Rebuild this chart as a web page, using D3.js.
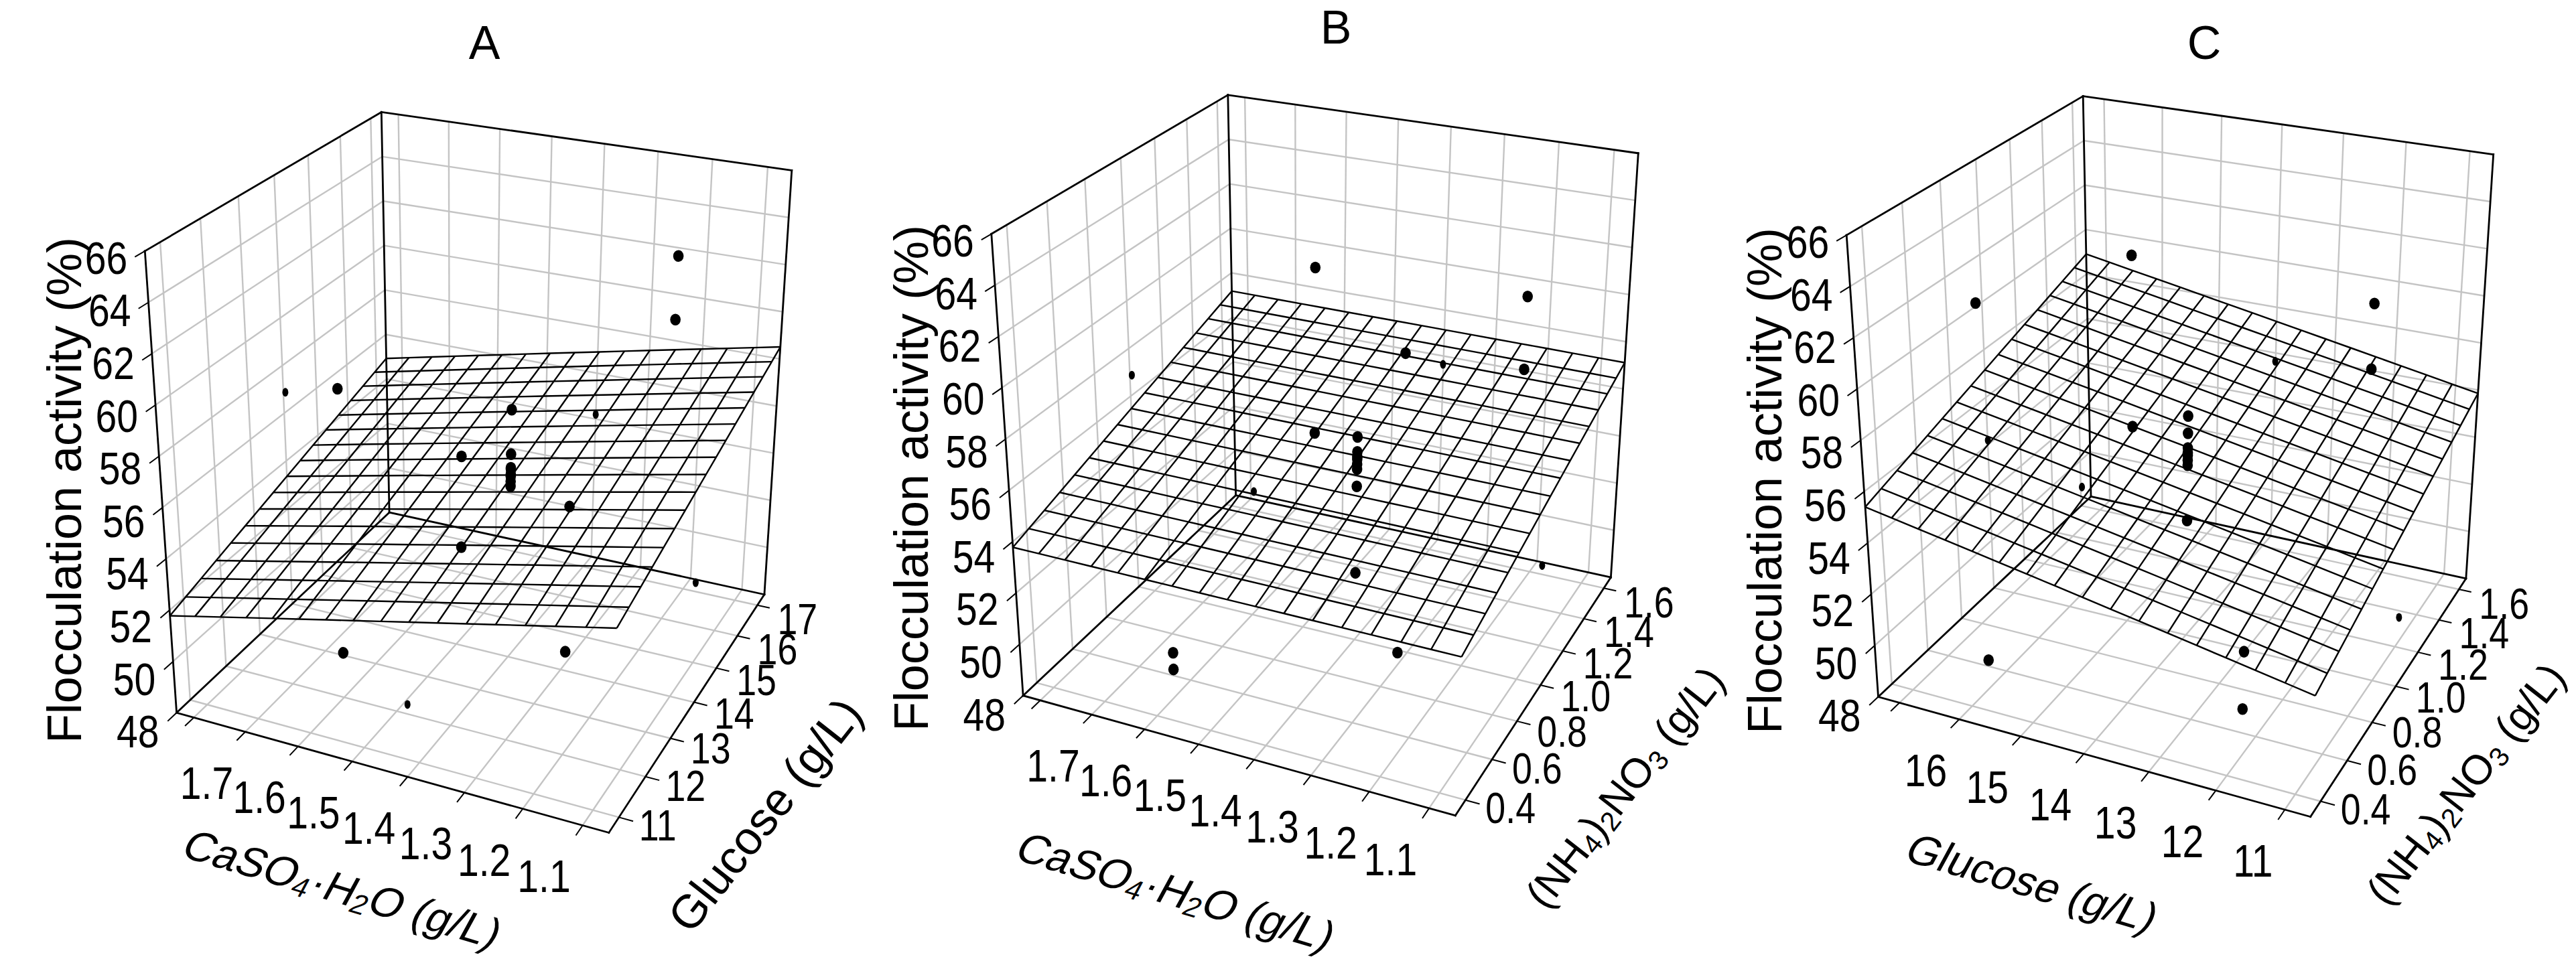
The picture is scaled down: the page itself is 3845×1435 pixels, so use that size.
<!DOCTYPE html>
<html>
<head>
<meta charset="utf-8">
<script src="https://cdn.jsdelivr.net/npm/d3@7/dist/d3.min.js"></script>
<style>
  html, body { margin: 0; padding: 0; background: #ffffff; }
  svg { display: block; }
  text { font-family: "Liberation Sans", Arial, Helvetica, sans-serif; fill: #000; }
</style>
</head>
<body>
<svg id="chart" width="3845" height="1435" viewBox="0 0 3845 1435"></svg>
<script>
// ===================== DATA =====================
// central composite design runs
const runCaSO4   = [1.2, 1.6, 1.2, 1.6, 1.2, 1.6, 1.2, 1.6, 1.83, 1.065, 1.4, 1.4, 1.4, 1.4, 1.4, 1.4, 1.4, 1.4, 1.4, 1.4];
const runGlucose = [12, 12, 16, 16, 12, 12, 16, 16, 14, 14, 10.64, 17.36, 14, 14, 14, 14, 14, 14, 14, 14];
const runNH4NO3  = [0.5, 0.5, 0.5, 0.5, 1.45, 1.45, 1.45, 1.45, 1.0, 1.0, 1.0, 1.0, 0.33, 1.67, 1.0, 1.0, 1.0, 1.0, 1.0, 1.0];
const runActivity = [51.9, 49.75, 63.1, 49.1, 57.4, 60.15, 60.45, 53.0, 56.9, 52.65, 50.7, 54.2, 58.0, 55.65, 56.2, 55.6, 55.4, 55.3, 55.1, 54.9];

// fitted response planes: [intercept, coef of 1st factor, coef of 2nd factor]
const surfaceA = [55.27, -4.61, 0.467];   // CaSO4, glucose
const surfaceB = [52.79, 0.09, 2.526];    // CaSO4, (NH4)2NO3
const surfaceC = [46.70, 0.452, 2.600];   // glucose, (NH4)2NO3

// axis ranges
const caRange = [1.834, 1.057];
const glucoseRange = [10.636, 17.364];
const glucoseRangeFront = [17.364, 10.636];
const nh4Range = [0.327, 1.673];
const activityRange = [48, 66];

// ticks and tick labels
const caTicks = [1.8, 1.7, 1.6, 1.5, 1.4, 1.3, 1.2, 1.1];
const caTickText = ["", "1.7", "1.6", "1.5", "1.4", "1.3", "1.2", "1.1"];
const glucoseTicks = [11, 12, 13, 14, 15, 16, 17];
const glucoseTickText = ["11", "12", "13", "14", "15", "16", "17"];
const glucoseTickTextFront = ["11", "12", "13", "14", "15", "16", ""];
const nh4Ticks = [0.4, 0.6, 0.8, 1.0, 1.2, 1.4, 1.6];
const nh4TickText = ["0.4", "0.6", "0.8", "1.0", "1.2", "1.4", "1.6"];
const activityTicks = [48, 50, 52, 54, 56, 58, 60, 62, 64, 66];
const activityTickText = ["48", "50", "52", "54", "56", "58", "60", "62", "64", "66"];

const panelNames = ["A", "B", "C"];
const zTitle = "Flocculation activity (%)";
const caTitle = [["CaSO"], ["4", 1], ["\u00B7H"], ["2", 1], ["O (g/L)"]];
const glucoseTitle = [["Glucose (g/L)"]];
const nh4Title = [["(NH"], ["4", 1], [")"], ["2", 1], ["NO"], ["3", 1], [" (g/L)"]];

// ===================== LAYOUT =====================
const boxFloor = { L: [0, 0], F: [645.2, 179.1], R: [877.3, -176.6], B: [317.5, -299.1] };
const boxTop   = { L: [-47.3, -689.4], R: [918.2, -809.9], B: [305.7, -896.9] };
const panelLayout = [
  { origin: [263.6, 1064.3], letter: [723, 64],  uTitle: [512, 1327], vTitle: [1142, 1217], zTitle: [96, 732] },
  { origin: [1527.1, 1038.7], letter: [1994, 41], uTitle: [1756, 1331], vTitle: [2425, 1175], zTitle: [1360, 714] },
  { origin: [2803.5, 1040.5], letter: [3290, 64], uTitle: [3034, 1318], vTitle: [3680, 1170], zTitle: [2634, 718] }
];
const gridColor = "#c4c4c4";
const tickFont = 68, vTickFont = 64, tickScaleX = 0.84;
const zTitleFont = 72, uTitleFont = 64, vTitleFonts = [70, 62, 62];

// ===================== PROJECTION =====================
function homography(p0, p1, p2, p3) {
  const [x0, y0] = p0, [x1, y1] = p1, [x2, y2] = p2, [x3, y3] = p3;
  const dx1 = x1 - x2, dx2 = x3 - x2, sx = x0 - x1 + x2 - x3;
  const dy1 = y1 - y2, dy2 = y3 - y2, sy = y0 - y1 + y2 - y3;
  const den = dx1 * dy2 - dx2 * dy1;
  const g = (sx * dy2 - dx2 * sy) / den;
  const h = (dx1 * sy - sx * dy1) / den;
  const a = x1 - x0 + g * x1, b = x3 - x0 + h * x3, c = x0;
  const d = y1 - y0 + g * y1, e = y3 - y0 + h * y3, f = y0;
  return (u, v) => { const w = g * u + h * v + 1; return [(a * u + b * v + c) / w, (d * u + e * v + f) / w]; };
}
function intersect(a1, a2, b1, b2) {
  const d = (a1[0] - a2[0]) * (b1[1] - b2[1]) - (a1[1] - a2[1]) * (b1[0] - b2[0]);
  const t = ((a1[0] - b1[0]) * (b1[1] - b2[1]) - (a1[1] - b1[1]) * (b1[0] - b2[0])) / d;
  return [a1[0] + t * (a2[0] - a1[0]), a1[1] + t * (a2[1] - a1[1])];
}
const vpU = intersect(boxFloor.L, boxFloor.F, boxFloor.B, boxFloor.R);
const vpV = intersect(boxFloor.L, boxFloor.B, boxFloor.F, boxFloor.R);
const topF = intersect(boxTop.L, vpU, boxTop.R, vpV);
const Hf = homography(boxFloor.L, boxFloor.F, boxFloor.R, boxFloor.B);
const Ht = homography(boxTop.L, topF, boxTop.R, boxTop.B);
function P(u, v, w) {
  const a = Hf(u, v), b = Ht(u, v);
  return [a[0] + (b[0] - a[0]) * w, a[1] + (b[1] - a[1]) * w];
}

// ===================== DRAW =====================
const svg = d3.select("#chart");
svg.append("rect").attr("width", 3845).attr("height", 1435).attr("fill", "#fff");
const line = d3.line();

function richText(sel, parts, fs) {
  let shift = 0;
  parts.forEach(([s, sub]) => {
    const want = sub ? fs * 0.24 : 0;
    const ts = sel.append("tspan").attr("dy", want - shift).text(s);
    if (sub) ts.attr("font-size", fs * 0.66);
    shift = want;
  });
}

const panelSpecs = [
  { x1: runCaSO4, x2: runGlucose, uRange: caRange, vRange: glucoseRange, uTicks: caTicks, uText: caTickText,
    vTicks: glucoseTicks, vText: glucoseTickText, surface: surfaceA, uTitle: caTitle, vTitle: glucoseTitle },
  { x1: runCaSO4, x2: runNH4NO3, uRange: caRange, vRange: nh4Range, uTicks: caTicks, uText: caTickText,
    vTicks: nh4Ticks, vText: nh4TickText, surface: surfaceB, uTitle: caTitle, vTitle: nh4Title },
  { x1: runGlucose, x2: runNH4NO3, uRange: glucoseRangeFront, vRange: nh4Range, uTicks: glucoseTicks, uText: glucoseTickTextFront,
    vTicks: nh4Ticks, vText: nh4TickText, surface: surfaceC, uTitle: glucoseTitle, vTitle: nh4Title }
];

const onEdge = (val, range) => Math.min(Math.abs(val - range[0]), Math.abs(val - range[1])) < 0.02 * Math.abs(range[1] - range[0]);

panelSpecs.forEach((spec, k) => {
  const lay = panelLayout[k];
  const g = svg.append("g").attr("transform", `translate(${lay.origin[0]},${lay.origin[1]})`);
  const uS = d3.scaleLinear().domain(spec.uRange).range([0, 1]);
  const vS = d3.scaleLinear().domain(spec.vRange).range([0, 1]);
  const zS = d3.scaleLinear().domain(activityRange).range([0, 1]);
  const seg = (a, b) => line([P(...a), P(...b)]);

  // grid lines
  const grid = g.append("g").attr("stroke", gridColor).attr("stroke-width", 2.4).attr("fill", "none");
  spec.uTicks.forEach(t => {
    const u = uS(t);
    grid.append("path").attr("d", seg([u, 0, 0], [u, 1, 0]));
    grid.append("path").attr("d", seg([u, 1, 0], [u, 1, 1]));
  });
  spec.vTicks.forEach(t => {
    const v = vS(t);
    grid.append("path").attr("d", seg([0, v, 0], [1, v, 0]));
    grid.append("path").attr("d", seg([0, v, 0], [0, v, 1]));
  });
  activityTicks.forEach(t => {
    const w = zS(t);
    if (w <= 0.001 || w >= 0.999) return;
    grid.append("path").attr("d", seg([0, 0, w], [0, 1, w]));
    grid.append("path").attr("d", seg([0, 1, w], [1, 1, w]));
  });

  // box edges
  const box = g.append("g").attr("stroke", "#000").attr("stroke-width", 2.8).attr("fill", "none").attr("stroke-linecap", "square");
  [[[0,0,0],[1,0,0]], [[1,0,0],[1,1,0]], [[0,0,0],[0,1,0]], [[0,1,0],[1,1,0]],
   [[0,0,0],[0,0,1]], [[0,1,0],[0,1,1]], [[1,1,0],[1,1,1]], [[0,0,1],[0,1,1]], [[0,1,1],[1,1,1]]]
    .forEach(([a, b]) => box.append("path").attr("d", seg(a, b)));

  // tick marks
  const ticks = g.append("g").attr("stroke", "#000").attr("stroke-width", 2).attr("fill", "none");
  spec.uTicks.forEach(t => { const u = uS(t); ticks.append("path").attr("d", seg([u, 0, 0], [u, -0.035, 0])); });
  spec.vTicks.forEach(t => { const v = vS(t); ticks.append("path").attr("d", seg([1, v, 0], [1.03, v, 0])); });
  activityTicks.forEach(t => { const w = zS(t); ticks.append("path").attr("d", seg([0, 0, w], [0, -0.035, w])); });

  // tick labels
  const lab = g.append("g").attr("font-size", tickFont);
  spec.uTicks.forEach((t, i) => {
    if (!spec.uText[i]) return;
    const p = P(uS(t), 0, 0);
    lab.append("text").attr("transform", `translate(${p[0] - 18},${p[1] + 76}) scale(${tickScaleX},1)`)
      .attr("text-anchor", "end").attr("dominant-baseline", "central").text(spec.uText[i]);
  });
  spec.vTicks.forEach((t, i) => {
    if (!spec.vText[i]) return;
    const v = vS(t);
    const p = P(1, v, 0);
    lab.append("text").attr("transform", `translate(${p[0] + 30},${p[1] + 12 + 10 * v}) scale(${tickScaleX},1)`)
      .attr("font-size", vTickFont)
      .attr("text-anchor", "start").attr("dominant-baseline", "central").text(spec.vText[i]);
  });
  activityTicks.forEach((t, i) => {
    const w = zS(t);
    const p = P(0, 0, w);
    lab.append("text").attr("transform", `translate(${p[0] - 26},${p[1] + 10 + 18 * (1 - w)}) scale(${tickScaleX},1)`)
      .attr("text-anchor", "end").attr("dominant-baseline", "central").text(activityTickText[i]);
  });

  // response surface mesh
  const N = 16;
  const mesh = g.append("g").attr("stroke", "#000").attr("stroke-width", 2.4).attr("fill", "none");
  const sz = (u, v) => {
    const a = uS.invert(u), b = vS.invert(v);
    return zS(spec.surface[0] + spec.surface[1] * a + spec.surface[2] * b);
  };
  for (let i = 0; i <= N; i++) {
    const t = i / N;
    const ptsU = d3.range(N + 1).map(j => { const v = j / N; return P(t, v, sz(t, v)); });
    const ptsV = d3.range(N + 1).map(j => { const u = j / N; return P(u, t, sz(u, t)); });
    mesh.append("path").attr("d", line(ptsU));
    mesh.append("path").attr("d", line(ptsV));
  }

  // data points
  const dots = g.append("g").attr("fill", "#000");
  runActivity.forEach((y, i) => {
    const a = spec.x1[i], b = spec.x2[i];
    const p = P(uS(a), vS(b), zS(y));
    const small = onEdge(a, spec.uRange) || onEdge(b, spec.vRange);
    dots.append("ellipse").attr("cx", p[0]).attr("cy", p[1])
      .attr("rx", small ? 4.5 : 7.8).attr("ry", small ? 6.5 : 8.8);
  });

  // axis titles
  const eU = [P(1, 0, 0), P(0, 0, 0)];
  const angU = Math.atan2(eU[0][1] - eU[1][1], eU[0][0] - eU[1][0]) * 180 / Math.PI;
  const eV = [P(1, 1, 0), P(1, 0, 0)];
  const angV = Math.atan2(eV[0][1] - eV[1][1], eV[0][0] - eV[1][0]) * 180 / Math.PI + 5;

  const ut = svg.append("text").attr("transform", `translate(${lay.uTitle[0]},${lay.uTitle[1]}) rotate(${angU + 1}) skewX(-12)`)
    .attr("text-anchor", "middle").attr("dominant-baseline", "central").attr("font-size", uTitleFont);
  richText(ut, spec.uTitle, uTitleFont);

  const vt = svg.append("text").attr("transform", `translate(${lay.vTitle[0]},${lay.vTitle[1]}) rotate(${angV})`)
    .attr("text-anchor", "middle").attr("dominant-baseline", "central").attr("font-size", vTitleFonts[k]);
  richText(vt, spec.vTitle, vTitleFonts[k]);

  svg.append("text").attr("transform", `translate(${lay.zTitle[0]},${lay.zTitle[1]}) rotate(-90)`)
    .attr("text-anchor", "middle").attr("dominant-baseline", "central").attr("font-size", zTitleFont)
    .text(zTitle);

  svg.append("text").attr("x", lay.letter[0]).attr("y", lay.letter[1])
    .attr("text-anchor", "middle").attr("dominant-baseline", "central").attr("font-size", 70)
    .text(panelNames[k]);
});
</script>
</body>
</html>
